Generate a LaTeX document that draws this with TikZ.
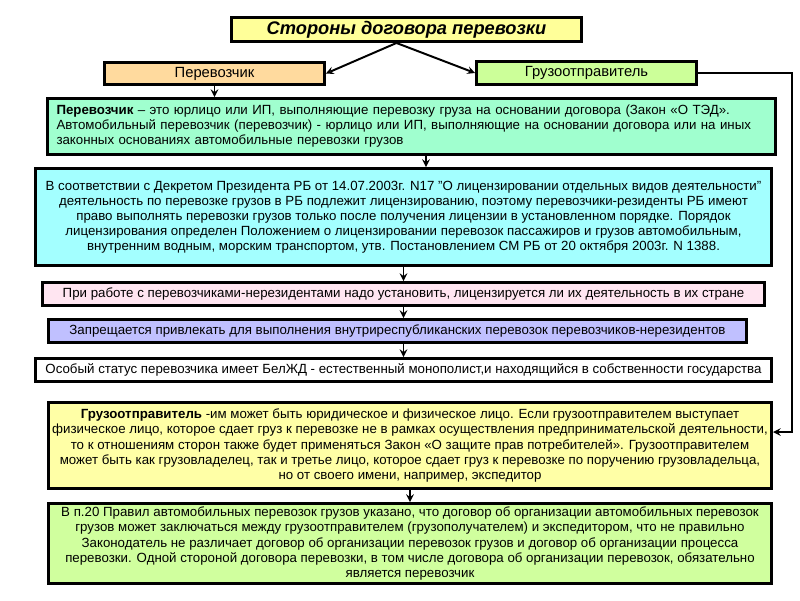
\documentclass[tikz,border=0pt]{standalone}
\usepackage{fontspec}
\setmainfont{Liberation Sans}
\usepackage{tikz}
\usepackage{xcolor}
\usetikzlibrary{shapes.geometric, arrows, positioning}
\definecolor{headyellow}{HTML}{FFFF99}
\definecolor{carrierpeach}{HTML}{FFDA9E}
\definecolor{shipperlime}{HTML}{CCFF99}
\definecolor{aquagreen}{HTML}{A0FFCF}
\definecolor{lightcyan}{HTML}{A3FFFF}
\definecolor{softpink}{HTML}{FFE5F1}
\definecolor{lavender}{HTML}{C0C0FF}
\definecolor{paleyellow}{HTML}{FFFFA6}
\definecolor{palelime}{HTML}{D0FF9E}
\tikzstyle{block} = [
    rectangle, draw=black, line width=2.1pt, align=center, inner sep=0pt,
    font=\fontsize{9.45}{10.7}\selectfont
]
\tikzstyle{head-block} = [
    block, fill=headyellow, minimum width=8.75cm, minimum height=0.6cm,
    font=\fontsize{13}{15}\selectfont\bfseries\itshape
]
\tikzstyle{side-block} = [
    block, minimum width=5.5cm, minimum height=0.56cm,
    font=\fontsize{10.5}{12}\selectfont
]
\tikzstyle{arrow} = [line width=1.4pt,->,>=stealth]

\begin{document}
\begin{tikzpicture}
            \useasboundingbox (0,0) rectangle (20,-15);

            \node (title) [head-block] at (10.1625,-0.7375) {Стороны договора перевозки};
            \node (perev) [side-block, fill=carrierpeach, below of=title, node distance=1.1cm, xshift=-4.8cm] {Перевозчик};
            \node (gruz) [side-block, fill=shipperlime, below of=title, node distance=1.0875cm, xshift=4.5cm] {Грузоотправитель};

            \node (box1) [block, fill=aquagreen, below of=title, node distance=2.425cm, xshift=0.125cm,
                          minimum width=18.2cm, minimum height=1.4cm, text width=17.75cm, align=left]
                {\textbf{Перевозчик} – это юрлицо или ИП, выполняющие перевозку груза на основании договора (Закон «О ТЭД».\\
                 Автомобильный перевозчик (перевозчик) - юрлицо или ИП, выполняющие на основании договора или на иных\\
                 законных основаниях автомобильные перевозки грузов};
            \node (box2) [block, fill=lightcyan, below of=box1, node distance=2.2625cm, xshift=-0.2cm,
                          minimum width=18.4cm, minimum height=2.425cm]
                {В соответствии с Декретом Президента РБ от 14.07.2003г. N17 "О лицензировании отдельных видов деятельности"\\
                 деятельность по перевозке грузов в РБ подлежит лицензированию, поэтому перевозчики-резиденты РБ имеют\\
                 право выполнять перевозки грузов только после получения лицензии в установленном порядке. Порядок\\
                 лицензирования определен Положением о лицензировании перевозок пассажиров и грузов автомобильным,\\
                 внутренним водным, морским транспортом, утв. Постановлением СМ РБ от 20 октября 2003г. N 1388.};
            \node (box3) [block, fill=softpink, below of=box2, node distance=1.925cm,
                          minimum width=18.05cm, minimum height=0.575cm]
                {При работе с перевозчиками-нерезидентами надо установить, лицензируется ли их деятельность в их стране};
            \node (box4) [block, fill=lavender, below of=box3, node distance=0.925cm, xshift=-0.15cm,
                          minimum width=17.45cm, minimum height=0.575cm]
                {Запрещается привлекать для выполнения внутриреспубликанских перевозок перевозчиков-нерезидентов};
            \node (box5) [block, fill=white, below of=box4, node distance=0.975cm, xshift=0.15cm,
                          minimum width=18.4cm, minimum height=0.575cm]
                {Особый статус перевозчика имеет БелЖД - естественный монополист,и находящийся в собственности государства};

            \node (box6) [block, fill=paleyellow, below of=box5, node distance=1.8875cm, xshift=0.1625cm,
                          minimum width=18.075cm, minimum height=2.15cm]
                {\textbf{Грузоотправитель} -им может быть юридическое и физическое лицо. Если грузоотправителем выступает\\
                 физическое лицо, которое сдает груз к перевозке не в рамках осуществления предпринимательской деятельности,\\
                 то к отношениям сторон также будет применяться Закон «О защите прав потребителей». Грузоотправителем\\
                 может быть как грузовладелец, так и третье лицо, которое сдает груз к перевозке по поручению грузовладельца,\\
                 но от своего имени, например, экспедитор};
            \node (box7) [block, fill=palelime, below of=box6, node distance=2.45cm,
                          minimum width=18.075cm, minimum height=2.0cm]
                {В п.20 Правил автомобильных перевозок грузов указано, что договор об организации автомобильных перевозок\\
                 грузов может заключаться между грузоотправителем (грузополучателем) и экспедитором, что не правильно\\
                 Законодатель не различает договор об организации перевозок грузов и договор об организации процесса\\
                 перевозки. Одной стороной договора перевозки, в том числе договора об организации перевозок, обязательно\\
                 является перевозчик};

            \coordinate (split) at ([xshift=-0.25cm]title.south);
            \coordinate (b1out) at ([xshift=0.3625cm]box1.south);

            \draw [arrow] (split) -- (perev.east);
            \draw [arrow] (split) -- (gruz.west);
            \draw [arrow] (perev.south) -- (perev.south |- box1.north);
            \draw [arrow] (b1out) -- (b1out |- box2.north);
            \draw [arrow] (box2.south) -- (box3.north);
            \draw [arrow] (box3.south) -- (box3.south |- box4.north);
            \draw [arrow] (box5.north |- box4.south) -- (box5.north);
            \draw [arrow] (box6.south) -- (box6.south |- box7.north);

            \draw [arrow] (gruz.east) -- ++(2.35,0) |- ([yshift=0.3375cm]box6.east);
        \end{tikzpicture}
\end{document}
